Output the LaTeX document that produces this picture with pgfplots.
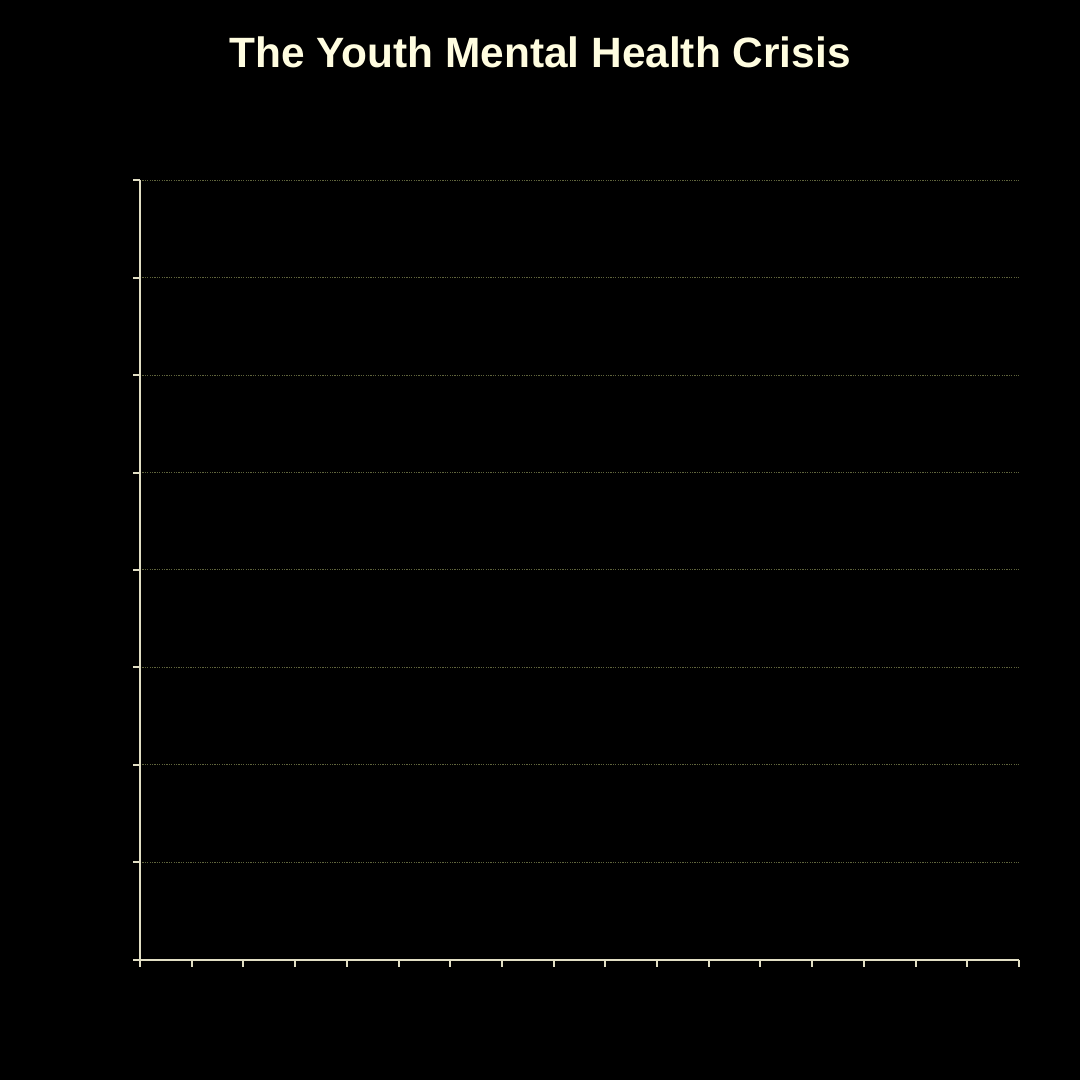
\documentclass[border=0pt]{standalone}
\usepackage{pgfplots}
\pgfplotsset{compat=1.18}
\usepackage{fontspec}
\setmainfont{Liberation Sans}
\definecolor{titlecol}{RGB}{255,253,224}
\definecolor{axiscol}{RGB}{225,222,196}
\definecolor{gridcol}{RGB}{95,100,60}
\begin{document}
\begin{tikzpicture}
  % canvas: 1080 px = 540pt
  \fill[black] (0pt,0pt) rectangle (540pt,540pt);
  \node[text=titlecol,font=\fontsize{21.2}{25}\selectfont\bfseries] at (270pt,514pt) {The Youth Mental Health Crisis};
  \begin{axis}[
    at={(70pt,60pt)},
    anchor=south west,
    scale only axis,
    width=439.5pt,
    height=390pt,
    xmin=0, xmax=17,
    ymin=0, ymax=8,
    xtick={0,1,...,17},
    ytick={0,1,...,8},
    xticklabels={},
    yticklabels={},
    axis lines=left,
    axis line style={-, draw=axiscol, line width=1.4pt},
    tick align=outside,
    major tick length=3.5pt,
    tick style={draw=axiscol, line width=1pt},
    ymajorgrids,
    grid style={draw=gridcol, dash pattern=on 0.6pt off 0.6pt, line width=0.5pt},
  ]
  \end{axis}
\end{tikzpicture}
\end{document}
